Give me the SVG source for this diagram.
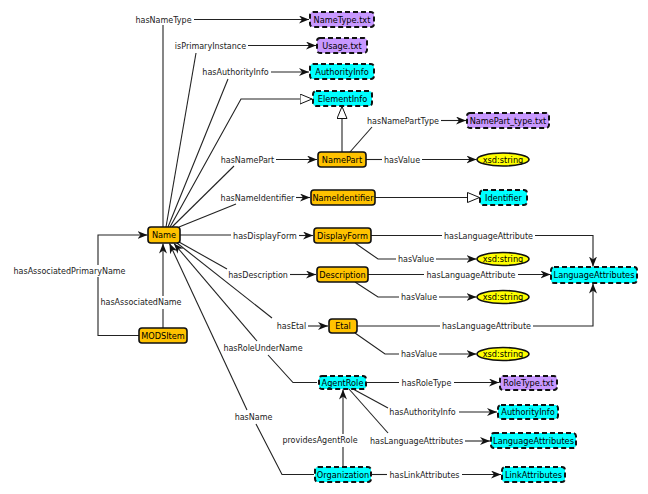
<svg xmlns="http://www.w3.org/2000/svg" width="648" height="494" viewBox="0 0 648 494">
<defs>
<marker id="arr" viewBox="0 0 10 8" refX="10" refY="4" markerWidth="10" markerHeight="8" markerUnits="userSpaceOnUse" orient="auto"><path d="M0,0 L10,4 L0,8 L3,4 Z" fill="#111"/></marker>
<marker id="tri" viewBox="0 0 13 11" refX="12.5" refY="5.5" markerWidth="13" markerHeight="11" markerUnits="userSpaceOnUse" orient="auto"><path d="M0.5,0.5 L12.5,5.5 L0.5,10.5 Z" fill="#fff" stroke="#111" stroke-width="1"/></marker>
<style>
.e{fill:none;stroke:#222;stroke-width:1.1}
.a{marker-end:url(#arr)}
.h{marker-end:url(#tri)}
.lb{font-family:"DejaVu Sans","Liberation Sans",sans-serif;font-size:8px;fill:#222;text-anchor:middle}
.nt{font-family:"DejaVu Sans","Liberation Sans",sans-serif;font-size:8.2px;fill:#000;text-anchor:middle}
.g{fill:#FFC200;stroke:#111;stroke-width:1.6}
.c{fill:#00FFFF;stroke:#111;stroke-width:2;stroke-dasharray:5 3}
.p{fill:#C898FF;stroke:#111;stroke-width:2;stroke-dasharray:5 3}
.y{fill:#FFFF00;stroke:#111;stroke-width:1.6}
</style>
</defs>
<rect width="648" height="494" fill="#fff"/>
<g id="connectors">
<path class="e" d="M163,227 V25"/>
<path class="e a" d="M194,19.5 H309"/>
<path class="e" d="M166,227 L196,53"/>
<path class="e a" d="M248,45.5 H316"/>
<path class="e" d="M168,227 L228,79"/>
<path class="e a" d="M271,72 H309"/>
<path class="e h" d="M170,227 L241,99 H312"/>
<path class="e" d="M172,227 L234,166"/>
<path class="e a" d="M276,159.5 H317"/>
<path class="e" d="M179,227 L236,204"/>
<path class="e a" d="M296,197.5 H310"/>
<path class="e" d="M180,235 H231"/>
<path class="e a" d="M299,235.5 H313"/>
<path class="e" d="M179,242 L227,269"/>
<path class="e a" d="M290,274.5 H316"/>
<path class="e" d="M177,243 L272,318"/>
<path class="e a" d="M308,326 H328"/>
<path class="e" d="M317,382.5 H293 L268,355"/>
<path class="e a" d="M257,341 L174,243.5"/>
<path class="e" d="M314,474.5 H282 L256,424"/>
<path class="e a" d="M247,410 L169.5,243.5"/>
<path class="e" d="M163,328 V309"/>
<path class="e a" d="M163,296 V243.5"/>
<path class="e" d="M139,335.5 H98 V277"/>
<path class="e a" d="M98,265 V235 H147.5"/>
<path class="e h" d="M342,152 V106.5"/>
<path class="e" d="M350,152 L372,127"/>
<path class="e a" d="M441,120.5 H466"/>
<path class="e" d="M366,159.5 H382"/>
<path class="e a" d="M422,159.5 H476.5"/>
<path class="e h" d="M375,197.5 H479.5"/>
<path class="e" d="M371,235.5 H442"/>
<path class="e a" d="M535,235.5 H593 V266.5"/>
<path class="e" d="M355,243 L378,259 H396"/>
<path class="e a" d="M436,259 H476.5"/>
<path class="e" d="M368,274.5 H424"/>
<path class="e a" d="M518,274.5 H550.5"/>
<path class="e" d="M355,282 L378,297 H399"/>
<path class="e a" d="M439,297 H476.5"/>
<path class="e" d="M357,326 H440"/>
<path class="e a" d="M533,326 H593 V283.5"/>
<path class="e" d="M355,333 L385,354 H399"/>
<path class="e a" d="M439,354 H476.5"/>
<path class="e" d="M366,382.5 H399"/>
<path class="e a" d="M454,382.5 H499"/>
<path class="e" d="M353,389 L388,408"/>
<path class="e a" d="M459,412 H497"/>
<path class="e" d="M349,389 L388,433"/>
<path class="e a" d="M465,441 H490"/>
<path class="e" d="M343,467 V447"/>
<path class="e a" d="M343,434 V389.5"/>
<path class="e" d="M371,474.5 H387"/>
<path class="e a" d="M462,474.5 H501"/>
</g>
<g id="edge-labels">
<text class="lb" x="163.5" y="22.5">hasNameType</text>
<text class="lb" x="210.5" y="48.5">isPrimaryInstance</text>
<text class="lb" x="235.5" y="75">hasAuthorityInfo</text>
<text class="lb" x="247.5" y="162.5">hasNamePart</text>
<text class="lb" x="257.5" y="200.5">hasNameIdentifier</text>
<text class="lb" x="265" y="238.5">hasDisplayForm</text>
<text class="lb" x="258" y="277.5">hasDescription</text>
<text class="lb" x="291.5" y="329">hasEtal</text>
<text class="lb" x="263" y="351">hasRoleUnderName</text>
<text class="lb" x="253.5" y="420">hasName</text>
<text class="lb" x="141" y="305">hasAssociatedName</text>
<text class="lb" x="69.5" y="274">hasAssociatedPrimaryName</text>
<text class="lb" x="403" y="123.8">hasNamePartType</text>
<text class="lb" x="402" y="162.5">hasValue</text>
<text class="lb" x="488.5" y="238.5">hasLanguageAttribute</text>
<text class="lb" x="416" y="262">hasValue</text>
<text class="lb" x="471" y="277.5">hasLanguageAttribute</text>
<text class="lb" x="419" y="300">hasValue</text>
<text class="lb" x="486.5" y="329">hasLanguageAttribute</text>
<text class="lb" x="419" y="357">hasValue</text>
<text class="lb" x="426.5" y="385.5">hasRoleType</text>
<text class="lb" x="422.5" y="415">hasAuthorityInfo</text>
<text class="lb" x="416.5" y="444">hasLanguageAttributes</text>
<text class="lb" x="320" y="443">providesAgentRole</text>
<text class="lb" x="424.5" y="477.5">hasLinkAttributes</text>
</g>
<g id="Name"><rect class="g" x="148" y="227" width="32" height="16" rx="3"/><text class="nt" x="164" y="238">Name</text></g>
<g id="MODSItem"><rect class="g" x="139" y="328" width="48" height="15" rx="3"/><text class="nt" x="163" y="338.5">MODSItem</text></g>
<g id="NamePart"><rect class="g" x="318" y="152" width="48" height="15" rx="3"/><text class="nt" x="342" y="162.5">NamePart</text></g>
<g id="NameIdentifier"><rect class="g" x="311" y="190" width="64" height="15" rx="3"/><text class="nt" x="343" y="200.5">NameIdentifier</text></g>
<g id="DisplayForm"><rect class="g" x="314" y="228" width="57" height="15" rx="3"/><text class="nt" x="342.5" y="238.5">DisplayForm</text></g>
<g id="Description"><rect class="g" x="317" y="267" width="51" height="15" rx="3"/><text class="nt" x="342.5" y="277.5">Description</text></g>
<g id="Etal"><rect class="g" x="329" y="319" width="28" height="14" rx="3"/><text class="nt" x="343" y="329">Etal</text></g>
<g id="NameType"><rect class="p" x="310" y="12" width="64" height="15" rx="3"/><text class="nt" x="342" y="22.5">NameType.txt</text></g>
<g id="Usage"><rect class="p" x="317" y="38" width="50" height="15" rx="3"/><text class="nt" x="342" y="48.5">Usage.txt</text></g>
<g id="AuthorityInfo1"><rect class="c" x="310" y="64" width="64" height="15" rx="3"/><text class="nt" x="342" y="74.5">AuthorityInfo</text></g>
<g id="ElementInfo"><rect class="c" x="313" y="91" width="59" height="15" rx="3"/><text class="nt" x="342.5" y="101.5">ElementInfo</text></g>
<g id="NamePartType"><rect class="p" x="467" y="113" width="82" height="15" rx="3"/><text class="nt" x="508" y="123.5">NamePart_type.txt</text></g>
<g id="Identifier"><rect class="c" x="480" y="190" width="47" height="15" rx="3"/><text class="nt" x="503.5" y="200.5">Identifier</text></g>
<g id="LanguageAttributes1"><rect class="c" x="551" y="267" width="86" height="16" rx="3"/><text class="nt" x="594" y="278">LanguageAttributes</text></g>
<g id="xsdString1"><ellipse class="y" cx="503" cy="159.5" rx="26" ry="6.5"/><text class="nt" x="503" y="162.5">xsd:string</text></g>
<g id="xsdString2"><ellipse class="y" cx="503" cy="259" rx="26" ry="6.5"/><text class="nt" x="503" y="262">xsd:string</text></g>
<g id="xsdString3"><ellipse class="y" cx="503" cy="297" rx="26" ry="6.5"/><text class="nt" x="503" y="300">xsd:string</text></g>
<g id="xsdString4"><ellipse class="y" cx="503" cy="354" rx="26" ry="6.5"/><text class="nt" x="503" y="357">xsd:string</text></g>
<g id="AgentRole"><rect class="c" x="319" y="376" width="47" height="13" rx="3"/><text class="nt" x="342.5" y="385.5">AgentRole</text></g>
<g id="RoleType"><rect class="p" x="500" y="376" width="57" height="14" rx="3"/><text class="nt" x="528.5" y="386">RoleType.txt</text></g>
<g id="AuthorityInfo2"><rect class="c" x="498" y="405" width="60" height="14" rx="3"/><text class="nt" x="528" y="415">AuthorityInfo</text></g>
<g id="LanguageAttributes2"><rect class="c" x="491" y="433" width="85" height="15" rx="3"/><text class="nt" x="533.5" y="443.5">LanguageAttributes</text></g>
<g id="Organization"><rect class="c" x="315" y="467" width="56" height="15" rx="3"/><text class="nt" x="343" y="477.5">Organization</text></g>
<g id="LinkAttributes"><rect class="c" x="502" y="467" width="63" height="15" rx="3"/><text class="nt" x="533.5" y="477.5">LinkAttributes</text></g>
</svg>
